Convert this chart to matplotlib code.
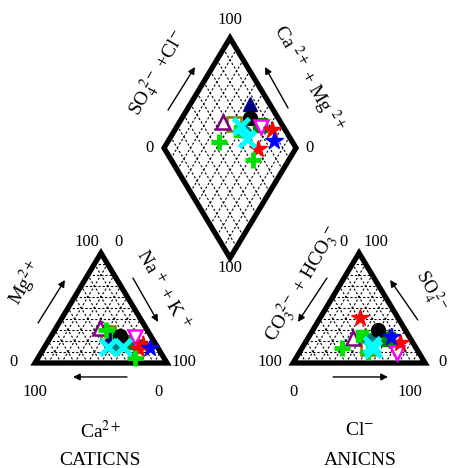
import numpy as np
import matplotlib
matplotlib.use('Agg')
import matplotlib.pyplot as plt
from matplotlib.patches import Polygon

plt.rcParams['font.family'] = ['Liberation Serif', 'DejaVu Serif']
plt.rcParams['mathtext.fontset'] = 'stix'

# Sample compositions (% meq)
ca = [10, 15, 6, 32, 12, 31, 19, 25, 35, 23, 26, 37, 22, 31, 33]
mg = [16, 13, 14, 23, 24, 27, 19, 25, 32, 25, 15, 15, 5, 30, 15]
nak = [74, 72, 80, 45, 64, 42, 62, 50, 33, 52, 59, 48, 73, 39, 52]
cl = [72, 30, 62, 60, 74, 50, 61, 40, 34, 49, 54, 52, 52, 30, 48]
so4 = [18, 41, 24, 25, 9, 14, 22, 25, 23, 30, 13, 16, 10, 14, 20]
hco3 = [10, 29, 14, 15, 17, 36, 17, 35, 43, 21, 33, 32, 38, 56, 32]

# marker styles for each sample
styles = [
    dict(marker='*', mfc='red', mec='red', ms=13),
    dict(marker='*', mfc='red', mec='red', ms=13),
    dict(marker='*', mfc='blue', mec='blue', ms=13),
    dict(marker='^', mfc='#000080', mec='#000080', ms=10),
    dict(marker='v', mfc='white', mec='magenta', ms=10, mew=1.8),
    dict(marker='s', mfc='white', mec='#808000', ms=10, mew=1.8),
    dict(marker='s', mfc='#008000', mec='#008000', ms=10),
    dict(marker='s', mfc='#00e000', mec='#00e000', ms=9),
    dict(marker='^', mfc='white', mec='#800080', ms=10, mew=1.8),
    dict(marker='o', mfc='black', mec='black', ms=10),
    dict(marker='x', mfc='cyan', mec='cyan', ms=12, mew=3.5),
    dict(marker='x', mfc='cyan', mec='cyan', ms=12, mew=3.5),
    dict(marker='+', mfc='#00e000', mec='#00e000', ms=12, mew=3.5),
    dict(marker='+', mfc='#00e000', mec='#00e000', ms=12, mew=3.5),
    dict(marker='D', mfc='#008080', mec='#008080', ms=8),
]
order = [5, 8, 3, 6, 7, 14, 9, 4, 0, 1, 2, 12, 13, 10, 11]

h = np.sqrt(3) / 2
g = 0.955


def cat_xy(m, n):
    return n + m / 2, m * h


def an_xy(s, c):
    return 1 + g + c + s / 2, s * h


def dia_xy(cm, sc):
    return 1 + g / 2 + (sc - cm) / 2, g * h + (sc + cm) * h


fig = plt.figure(figsize=(4.52, 4.68), dpi=100)
ax = fig.add_axes([0, 0, 1, 1])
ax.set_xlim(-35 / 132, 417 / 132)
ax.set_ylim(-105 / 127, 363 / 127)
ax.axis('off')

grid_kw = dict(color='black', lw=0.8, ls=(0, (2, 1.8)), zorder=1)
ts = np.arange(1, 10) / 10
for t in ts:
    # cation triangle
    for p, q in [(cat_xy(t, 0), cat_xy(t, 1 - t)),
                 (cat_xy(0, t), cat_xy(1 - t, t)),
                 (cat_xy(0, 1 - t), cat_xy(1 - t, 0))]:
        ax.plot([p[0], q[0]], [p[1], q[1]], **grid_kw)
    # anion triangle
    for p, q in [(an_xy(t, 0), an_xy(t, 1 - t)),
                 (an_xy(0, t), an_xy(1 - t, t)),
                 (an_xy(0, 1 - t), an_xy(1 - t, 0))]:
        ax.plot([p[0], q[0]], [p[1], q[1]], **grid_kw)
    # diamond
    for p, q in [(dia_xy(t, 0), dia_xy(t, 1)), (dia_xy(0, t), dia_xy(1, t))]:
        ax.plot([p[0], q[0]], [p[1], q[1]], **grid_kw)

border_kw = dict(fill=False, lw=3.8, ec='black', joinstyle='miter', zorder=2)
ax.add_patch(Polygon([cat_xy(0, 0), cat_xy(0, 1), cat_xy(1, 0)], **border_kw))
ax.add_patch(Polygon([an_xy(0, 0), an_xy(0, 1), an_xy(1, 0)], **border_kw))
ax.add_patch(Polygon([dia_xy(0, 0), dia_xy(1, 0), dia_xy(1, 1), dia_xy(0, 1)], **border_kw))

# samples
for i in order:
    tot_c = ca[i] + mg[i] + nak[i]
    tot_a = cl[i] + so4[i] + hco3[i]
    m, n = mg[i] / tot_c, nak[i] / tot_c
    s, c = so4[i] / tot_a, cl[i] / tot_a
    for xy in [cat_xy(m, n), an_xy(s, c), dia_xy(1 - n, s + c)]:
        ax.plot(xy[0], xy[1], ls='none', zorder=3, **styles[i])

# tick labels
fs = 12
labels = [
    ('100', 1.477, 2.70), ('0', 0.871, 1.693), ('0', 2.083, 1.693), ('100', 1.477, 0.748),
    ('100', 0.39, 0.953), ('0', 0.635, 0.953), ('0', 2.335, 0.953), ('100', 2.58, 0.953),
    ('0', -0.16, 0.01), ('100', 1.13, 0.01), ('100', 1.78, 0.01), ('0', 3.09, 0.01),
    ('100', 0.0, -0.228), ('0', 0.932, -0.228), ('0', 1.955, -0.228), ('100', 2.841, -0.228),
]
for txt, x, y in labels:
    ax.text(x, y, txt, fontsize=fs, ha='center', va='center')

# axis titles
tfs = 14
ax.text(0.93, 2.28, r'SO$_4^{\ 2-}$ +Cl$^{-}$', rotation=60, fontsize=tfs, ha='center', va='center')
ax.text(2.07, 2.24, r'Ca $^{2+}$ + Mg $^{2+}$', rotation=-60, fontsize=tfs, ha='center', va='center')
ax.text(-0.07, 0.63, r'Mg$^{2+}$', rotation=60, fontsize=tfs, ha='center', va='center')
ax.text(0.97, 0.58, r'Na $^{+}$ + K $^{+}$', rotation=-60, fontsize=tfs, ha='center', va='center')
ax.text(2.03, 0.62, r'CO$_3^{\ 2-}$ + HCO$_3^{\ -}$', rotation=60, fontsize=tfs, ha='center', va='center')
ax.text(3.0, 0.57, r'SO$_4^{\ 2-}$', rotation=-60, fontsize=13, ha='center', va='center')

ax.text(0.50, -0.535, r'Ca$^{2+}$', fontsize=tfs, ha='center', va='center')
ax.text(0.492, -0.764, 'CATICNS', fontsize=tfs, ha='center', va='center')
ax.text(2.462, -0.535, r'Cl$^{-}$', fontsize=tfs, ha='center', va='center')
ax.text(2.462, -0.764, 'ANICNS', fontsize=tfs, ha='center', va='center')

# arrows
arrows = [
    ((0.697, -0.110), (0.288, -0.110)),
    ((2.258, -0.110), (2.674, -0.110)),
    ((0.023, 0.315), (0.227, 0.654)),
    ((0.742, 0.669), (0.932, 0.323)),
    ((2.212, 0.669), (1.992, 0.323)),
    ((2.90, 0.339), (2.69, 0.654)),
    ((1.008, 1.992), (1.212, 2.331)),
    ((1.917, 2.008), (1.742, 2.331)),
]
for start, end in arrows:
    ax.annotate('', xy=end, xytext=start,
                arrowprops=dict(arrowstyle='-|>', lw=1, color='black', mutation_scale=10,
                                shrinkA=0, shrinkB=0))

fig.savefig('out.png', dpi=100)
